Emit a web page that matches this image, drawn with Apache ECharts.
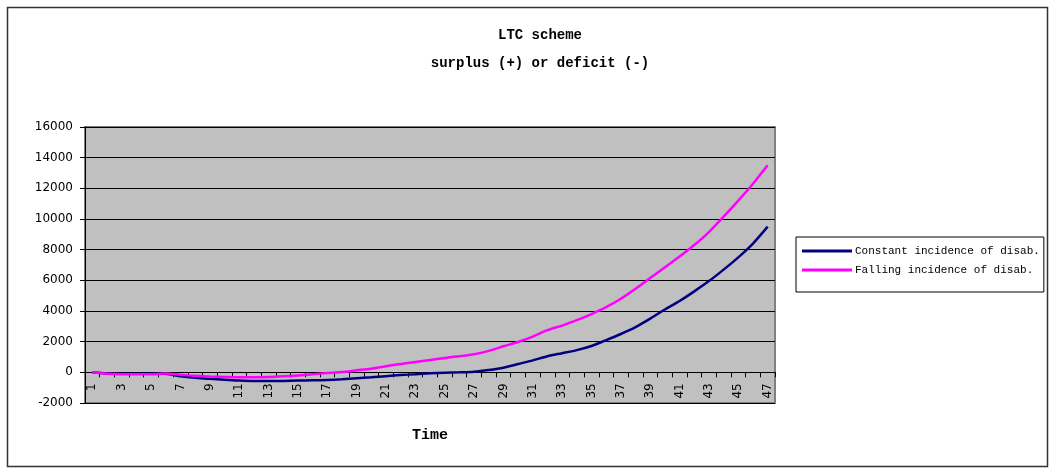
<!DOCTYPE html>
<html>
<head>
<meta charset="utf-8">
<script src="https://cdn.jsdelivr.net/npm/echarts@6/dist/echarts.min.js"></script>
<style>html,body{margin:0;padding:0;background:#fff}#c{width:1054px;height:473px}</style>
</head>
<body>
<div id="c"></div>
<script>
const categories = [];
for (let i = 1; i <= 47; i++) categories.push(String(i));

const constantIncidence = [
  0, -80, -100, -100, -80, -100, -250, -350, -420, -480,
  -540, -570, -570, -560, -540, -520, -500, -450, -380, -320,
  -250, -180, -120, -60, -20, 0, 40, 150, 300, 540,
  780, 1050, 1250, 1450, 1720, 2100, 2500, 2950, 3500, 4100,
  4650, 5280, 5950, 6700, 7500, 8400, 9500
];

const fallingIncidence = [
  0, -100, -130, -130, -120, -80, -150, -230, -270, -300,
  -320, -320, -300, -250, -200, -120, -50, 20, 130, 240,
  400, 540, 680, 810, 940, 1050, 1180, 1400, 1700, 1980,
  2330, 2750, 3050, 3400, 3800, 4250, 4800, 5450, 6150, 6850,
  7550, 8300, 9150, 10150, 11200, 12300, 13500
];

const seriesNames = ['Constant incidence of disab.', 'Falling incidence of disab.'];
const titleLines = ['LTC scheme', 'surplus (+) or deficit (-)'];
const xAxisTitle = 'Time';

const chart = echarts.init(document.getElementById('c'), null, {renderer: 'canvas'});
chart.setOption({
  animation: false,
  backgroundColor: '#ffffff',
  title: {
    text: titleLines.join('\n'),
    left: 535,
    textAlign: 'center',
    top: 16,
    textStyle: {
      fontFamily: 'Liberation Mono',
      fontWeight: 'bold',
      fontSize: 14,
      lineHeight: 28,
      color: '#000'
    }
  },
  graphic: [{
    type: 'rect',
    shape: {x: 7.5, y: 7.5, width: 1040, height: 459},
    style: {fill: 'none', stroke: '#333', lineWidth: 1.5},
    silent: true,
    z: -10
  }],
  legend: {
    orient: 'vertical',
    left: 796,
    top: 237,
    padding: [7, 4, 15, 6],
    itemGap: 5,
    itemWidth: 50,
    itemHeight: 3,
    icon: 'rect',
    borderColor: '#000',
    borderWidth: 1,
    backgroundColor: '#fff',
    textStyle: {
      fontFamily: 'Liberation Mono',
      fontSize: 11,
      lineHeight: 14,
      color: '#000',
      padding: [0, 0, 0, -2]
    },
    data: seriesNames
  },
  grid: {
    left: 85,
    right: 279,
    top: 127,
    bottom: 70,
    containLabel: false,
    outerBoundsMode: 'none',
    show: true,
    backgroundColor: '#C0C0C0',
    borderColor: '#808080',
    borderWidth: 2
  },
  xAxis: {
    type: 'category',
    data: categories,
    boundaryGap: true,
    position: 'bottom',
    offset: -30.7,
    name: xAxisTitle,
    nameLocation: 'middle',
    nameGap: 55,
    nameTextStyle: {
      fontFamily: 'Liberation Mono',
      fontWeight: 'bold',
      fontSize: 15,
      color: '#000'
    },
    axisLine: {onZero: false, lineStyle: {color: '#000', width: 1}},
    axisTick: {show: true, interval: 0, length: 5, lineStyle: {color: '#000'}},
    axisLabel: {
      interval: 1,
      rotate: 90,
      margin: 11,
      fontFamily: 'DejaVu Sans',
      fontSize: 12,
      color: '#000'
    },
    splitLine: {show: false}
  },
  yAxis: {
    type: 'value',
    min: -2000,
    max: 16000,
    interval: 2000,
    axisLine: {show: true, lineStyle: {color: '#000', width: 1}},
    axisTick: {show: true, length: 5, lineStyle: {color: '#000'}},
    axisLabel: {
      margin: 12,
      fontFamily: 'DejaVu Sans',
      fontSize: 12,
      color: '#000',
      formatter: function (v) { return String(v); }
    },
    splitLine: {show: true, lineStyle: {color: '#000', width: 1}}
  },
  series: [
    {
      name: seriesNames[0],
      type: 'line',
      data: constantIncidence,
      symbol: 'none',
      smooth: 0.3,
      lineStyle: {color: '#000080', width: 2.5},
      itemStyle: {color: '#000080'},
      z: 3
    },
    {
      name: seriesNames[1],
      type: 'line',
      data: fallingIncidence,
      symbol: 'none',
      smooth: 0.3,
      lineStyle: {color: '#FF00FF', width: 2.5},
      itemStyle: {color: '#FF00FF'},
      z: 4
    }
  ]
});
</script>
</body>
</html>
